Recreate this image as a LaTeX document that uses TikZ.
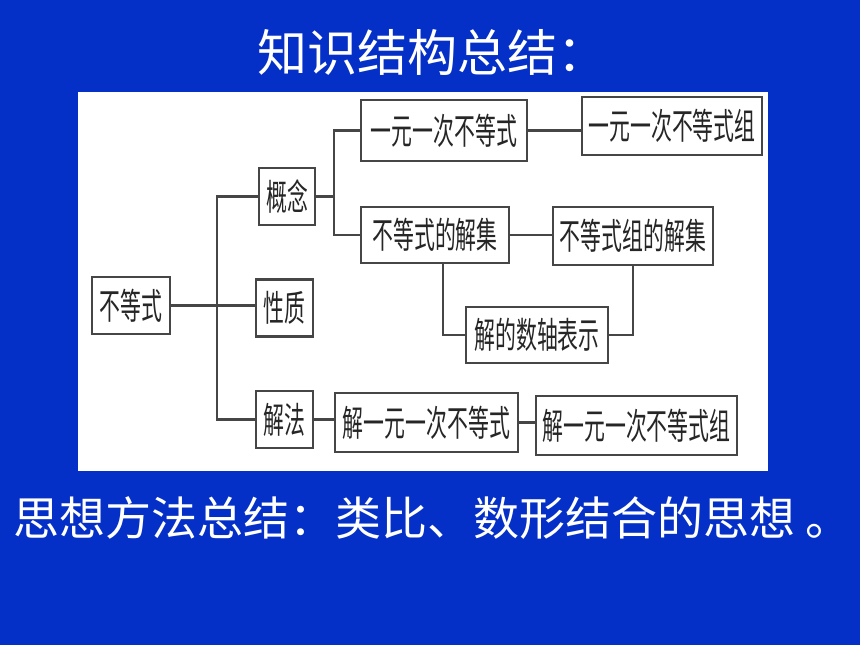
\documentclass[tikz,border=0pt]{standalone}
\usepackage{fontspec}
\usepackage{xcolor}
\usepackage{tikz}
\usetikzlibrary{positioning, calc}
\newfontfamily\cjk{Noto Sans CJK SC}
\newfontfamily\cjkbox[FakeStretch=0.58]{Noto Sans CJK SC}
\definecolor{slideblue}{RGB}{5,48,200}
\definecolor{boxline}{RGB}{70,70,70}

\begin{document}
\begin{tikzpicture}[x=1pt, y=-1pt,
	box/.style={draw=boxline, line width=2.4pt, fill=white, inner sep=0pt, text=black!85, font=\cjkbox\fontsize{36}{36}\selectfont},
	link/.style={draw=boxline, line width=2.2pt}]
	\pgfmathsetmacro{\trunkx}{217}
	\pgfmathsetmacro{\splitx}{334}
	\fill[slideblue] (0,0) rectangle (860,645);
	\useasboundingbox (0,0) rectangle (860,645);
	\fill[white] (78,92) rectangle (768,471);

	\node[text=white, font=\cjk\fontsize{50}{50}\selectfont] (title) at (432,52) {知识结构总结：};

	\node[box, minimum width=78pt, minimum height=57pt] (root) at (131,305.5) {不等式};
	\node[box, minimum width=56pt, minimum height=57pt] (gainian) at (287,196.5) {概念};
	\node[box, minimum width=57pt, minimum height=57pt] (xingzhi) at (284.5,308) {性质};
	\node[box, minimum width=57pt, minimum height=57pt] (jiefa) at (284.5,419.5) {解法};
	\node[box, minimum width=166pt, minimum height=61pt] (yiyuan) at (444,130.5) {一元一次不等式};
	\node[box, minimum width=180pt, minimum height=58pt] (zu) at (672,126) {一元一次不等式组};
	\node[box, minimum width=148pt, minimum height=56pt] (jieji) at (435,235) {不等式的解集};
	\node[box, minimum width=160pt, minimum height=58pt] (zujieji) at (633,236) {不等式组的解集};
	\node[box, minimum width=142pt, minimum height=56pt] (shuzhou) at (537,335) {解的数轴表示};
	\node[box, minimum width=183pt, minimum height=59pt] (jieyi) at (426.5,422.5) {解一元一次不等式};
	\node[box, minimum width=201pt, minimum height=59pt] (jiezu) at (636.5,425.5) {解一元一次不等式组};

	\coordinate (trunk) at (\trunkx,305.5);
	\coordinate (split) at (\splitx,196.5);

	% tree lines
	\draw[link] (root.east) -- (root.east -| xingzhi.west);
	\draw[link] (gainian.west) -| (trunk) |- (jiefa.west);
	\draw[link] (gainian.east) -- (split);
	\draw[link] (yiyuan.west) -| (split) |- (jieji.west);
	\draw[link] (yiyuan.east) -- (yiyuan.east -| zu.west);
	\draw[link] (jieji.east) -- (jieji.east -| zujieji.west);
	\draw[link] ([xshift=8pt]jieji.south) |- (shuzhou.west);
	\draw[link] (zujieji.south) |- (shuzhou.east);
	\draw[link] (jiefa.east) -- (jiefa.east -| jieyi.west);
	\draw[link] (jieyi.east) -- (jieyi.east -| jiezu.west);

	\node[anchor=west, text=white, font=\cjk\fontsize{46}{46}\selectfont, inner sep=0pt] (summary) at (13,518) {思想方法总结：类比、数形结合的思想 。};
\end{tikzpicture}
\end{document}
